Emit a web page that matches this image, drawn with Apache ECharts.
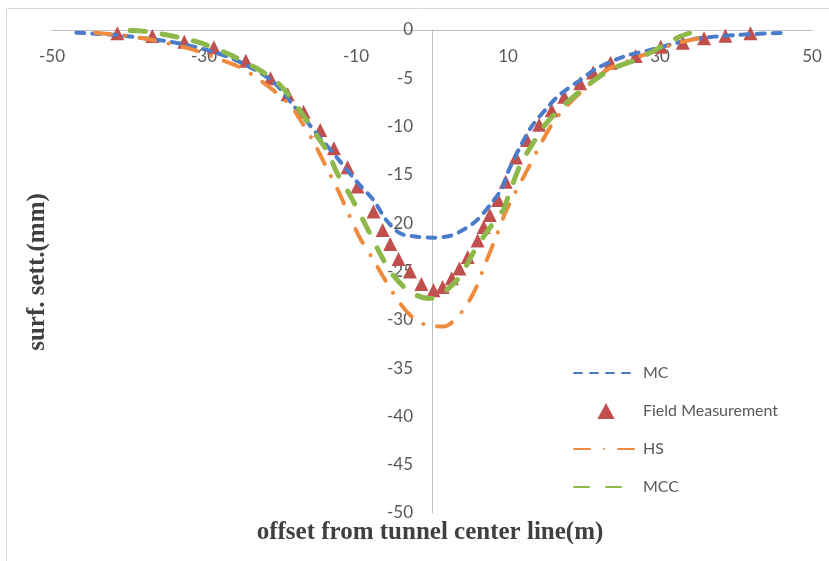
<!DOCTYPE html>
<html>
<head>
<meta charset="utf-8">
<script src="https://cdn.jsdelivr.net/npm/echarts@6/dist/echarts.min.js"></script>
<style>
  html, body { margin: 0; padding: 0; background: #fff; }
  #chart { width: 829px; height: 561px; }
</style>
</head>
<body>
<div id="chart"></div>
<script>
const chart = echarts.init(document.getElementById('chart'))

// x ticks: -50 .. 50, labels every 20
const xLabels = [-50, -30, -10, 10, 30, 50]

// MC (blue dashed)
const mcData = [
  [-46.8, -0.28], [-41.5, -0.52], [-38.9, -0.76], [-34.5, -1.21], [-29.6, -2.07],
  [-25.3, -3.3], [-20.9, -5.35], [-18.3, -7.76], [-15.0, -10.87], [-12.1, -13.6],
  [-9.9, -15.7], [-7.7, -17.6], [-6.0, -19.7], [-4.2, -21.05], [-2.0, -21.4],
  [0, -21.5], [2.4, -21.3], [4.3, -20.6], [5.9, -19.7], [7.85, -17.9],
  [9.2, -16.4], [10.0, -14.7], [11.4, -12.4], [13.1, -10.0], [15.1, -8.1],
  [16.8, -6.7], [19.2, -5.35], [21.7, -3.96], [25.2, -2.76], [28.7, -2.07],
  [34.3, -0.96], [40.1, -0.52], [46.7, -0.28],
]

// field measurement (red triangles)
const fieldData = [
  [-41.4, -0.34], [-36.8, -0.62], [-32.6, -1.21], [-28.7, -1.79], [-24.5, -3.18],
  [-21.25, -5.0], [-19.0, -6.65], [-16.9, -8.46], [-14.7, -10.35], [-12.9, -12.25],
  [-11.1, -14.2], [-9.8, -16.2], [-7.7, -18.8], [-6.5, -20.7], [-5.5, -22.15],
  [-4.4, -23.7], [-2.9, -25.0], [-1.4, -26.3], [0.2, -26.95], [1.4, -26.6],
  [2.6, -25.7], [3.6, -24.7], [4.7, -23.5], [6.0, -21.8], [6.8, -20.4],
  [7.6, -19.15], [8.7, -17.6], [9.7, -15.7], [11.05, -13.2], [12.5, -11.4],
  [14.1, -9.8], [15.75, -8.3], [17.4, -6.9], [19.5, -5.5], [21.2, -4.4],
  [23.5, -3.4], [26.8, -2.7], [30.1, -1.73], [33.0, -1.31], [35.8, -0.86],
  [38.6, -0.59], [41.9, -0.34],
]

// HS (orange dash-dot)
const hsData = [
  [-44.3, -0.28], [-38.0, -0.86], [-31.6, -2.0], [-27.7, -3.1], [-24.6, -4.14],
  [-18.9, -7.56], [-17.1, -9.6], [-15.5, -11.7], [-13.9, -14.2], [-12.3, -16.7],
  [-11.0, -19.0], [-9.5, -21.5], [-7.7, -23.8], [-6.3, -25.7], [-4.2, -28.3],
  [-2.5, -29.8], [-0.9, -30.5], [1.5, -30.7], [3.9, -29.2], [5.8, -26.7],
  [7.0, -24.2], [8.3, -21.7], [9.6, -19.0], [10.9, -16.9], [12.6, -14.4],
  [14.1, -12.1], [15.75, -9.8], [17.2, -8.3], [19.9, -6.2], [23.0, -4.14],
  [25.6, -3.28], [27.4, -2.7], [32.2, -1.38], [35.3, -0.83],
]

// MCC (green long dash)
const mccData = [
  [-39.7, -0.05], [-37.1, -0.2], [-31.0, -1.21], [-27.0, -2.41], [-23.1, -3.96],
  [-20.0, -5.7], [-17.4, -8.3], [-15.1, -11.0], [-13.6, -12.8], [-12.5, -14.8],
  [-10.65, -17.3], [-8.6, -20.4], [-6.8, -23.2], [-5.3, -25.2], [-2.9, -27.1],
  [-0.4, -27.8], [1.3, -27.3], [3.7, -25.5], [5.4, -23.1], [7.4, -20.7],
  [9.4, -18.6], [10.0, -17.3], [11.6, -14.0], [13.55, -11.4], [14.9, -9.8],
  [17.2, -7.9], [19.7, -6.2], [23.4, -4.14], [27.4, -2.9], [31.3, -1.21],
  [32.6, -0.69], [34.8, -0.05],
]

const axisColor = '#BFBFBF'
const labelColor = '#595959'
const labelFont = 'Lato'
const noMarker = { opacity: 0 }

const option = {
  animation: false,
  grid: { left: 52, right: 17, top: 30, bottom: 48, containLabel: false },
  graphic: [
    {
      type: 'rect',
      shape: { x: 6.5, y: 8.5, width: 840, height: 580 },
      style: { fill: 'none', stroke: '#D9D9D9', lineWidth: 1 },
      silent: true,
    },
    {
      type: 'text',
      x: 430,
      y: 533,
      style: {
        text: 'offset from tunnel center line(m)',
        font: 'bold 25px "Liberation Serif"',
        fill: '#404040',
        align: 'center',
        verticalAlign: 'middle',
      },
    },
    {
      type: 'text',
      x: 38,
      y: 272,
      rotation: Math.PI / 2,
      style: {
        text: 'surf. sett.(mm)',
        font: 'bold 25px "Liberation Serif"',
        fill: '#404040',
        align: 'center',
        verticalAlign: 'middle',
      },
    },
  ],
  legend: {
    orient: 'vertical',
    left: 573,
    top: 365,
    itemWidth: 64,
    itemHeight: 16,
    itemGap: 22,
    padding: 0,
    symbolKeepAspect: true,
    textStyle: { fontSize: 16, color: labelColor, fontFamily: labelFont },
    data: [
      { name: 'MC', itemStyle: noMarker },
      { name: 'Field Measurement', icon: 'path://M7,0 L14,13 L0,13 Z' },
      { name: 'HS', itemStyle: noMarker },
      { name: 'MCC', itemStyle: noMarker },
    ],
  },
  xAxis: {
    type: 'value',
    position: 'top',
    min: -50,
    max: 50,
    interval: 10,
    axisLine: { onZero: false, lineStyle: { color: axisColor, width: 1 } },
    axisTick: { show: false },
    splitLine: { show: false },
    axisLabel: {
      inside: true,
      margin: 18,
      fontSize: 17,
      color: labelColor,
      fontFamily: labelFont,
      formatter: (v) => (xLabels.includes(v) ? String(v) : ''),
    },
  },
  yAxis: {
    type: 'value',
    position: 'left',
    offset: -380,
    min: -50,
    max: 0,
    interval: 5,
    axisLine: { show: true, onZero: false, lineStyle: { color: axisColor, width: 1 } },
    axisTick: { show: false },
    splitLine: { show: false },
    axisLabel: { margin: 19, fontSize: 17, color: labelColor, fontFamily: labelFont },
  },
  series: [
    {
      name: 'MC',
      type: 'line',
      data: mcData,
      smooth: 0.3,
      symbol: 'none',
      lineStyle: { color: '#4A7CC9', width: 4, type: [8, 8], cap: 'round' },
      itemStyle: { color: '#4A7CC9' },
    },
    {
      name: 'Field Measurement',
      type: 'scatter',
      data: fieldData,
      symbol: 'triangle',
      symbolSize: 14,
      itemStyle: { color: '#C0504D', opacity: 1 },
    },
    {
      name: 'HS',
      type: 'line',
      data: hsData,
      smooth: 0.3,
      symbol: 'none',
      lineStyle: { color: '#F08A3C', width: 4, type: [16, 14, 0.1, 14], cap: 'round' },
      itemStyle: { color: '#F08A3C' },
    },
    {
      name: 'MCC',
      type: 'line',
      data: mccData,
      smooth: 0.3,
      symbol: 'none',
      lineStyle: { color: '#8DB84A', width: 5, type: [15, 17], cap: 'round' },
      itemStyle: { color: '#8DB84A' },
    },
  ],
}

chart.setOption(option)
</script>
</body>
</html>
